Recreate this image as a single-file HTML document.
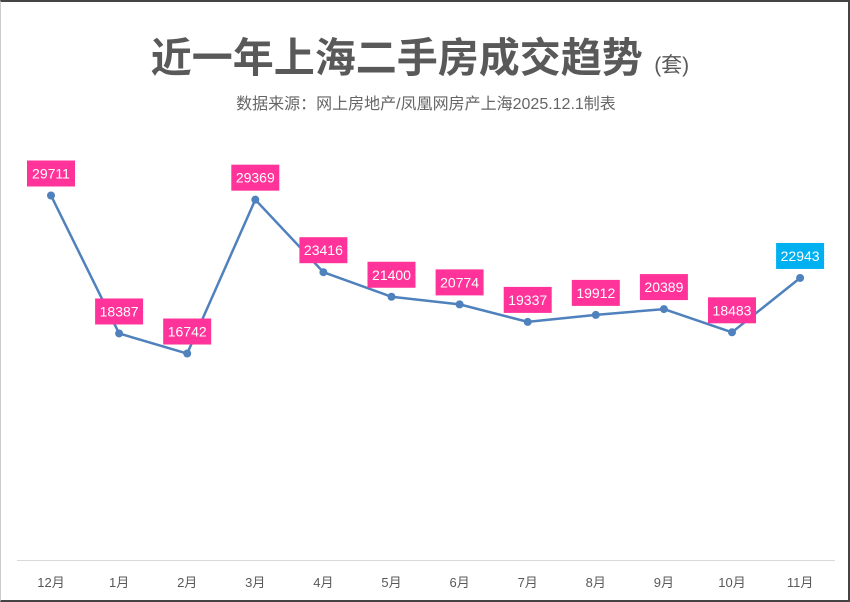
<!DOCTYPE html>
<html><head><meta charset="utf-8"><style>
html,body{margin:0;padding:0;background:#fff}
#wrap{position:relative;width:850px;height:602px;box-sizing:border-box;border:2px solid #444;border-left:1px solid #ccc;overflow:hidden;font-family:"Liberation Sans","Noto Sans CJK SC",sans-serif}
#title{position:absolute;top:22px;left:-6px;width:850px;text-align:center;font-size:41px;font-weight:bold;color:#595959}
#title small{font-size:21px;font-weight:normal}
#sub{position:absolute;top:88px;left:0;width:850px;text-align:center;font-size:16px;color:#666}
svg{position:absolute;left:0;top:0}
</style></head><body>
<div id="wrap">
<div id="title">近一年上海二手房成交趋势 <small>(套)</small></div>
<div id="sub">数据来源：网上房地产/凤凰网房产上海2025.12.1制表</div>
<svg id="chart" width="850" height="602"></svg>
</div>
<script>
const categories=["12月","1月","2月","3月","4月","5月","6月","7月","8月","9月","10月","11月"];
const values=[29711,18387,16742,29369,23416,21400,20774,19337,19912,20389,18483,22943];
const NS="http://www.w3.org/2000/svg";
const svg=document.getElementById('chart');
const x0=50,step=68.1,yBase=555.5,k=0.012184;
const xs=i=>x0+i*step;
const ys=v=>yBase-v*k;
function mk(t,a){const e=document.createElementNS(NS,t);for(const n in a)e.setAttribute(n,a[n]);svg.appendChild(e);return e;}
const axis=mk('line',{x1:16,x2:834,y1:558.5,y2:558.5,stroke:'#d9d9d9','stroke-width':1});


categories.forEach((c,i)=>{const t=mk('text',{x:xs(i),y:585,'text-anchor':'middle','font-size':13,fill:'#595959'});t.textContent=c;

});
const line=mk('polyline',{points:values.map((v,i)=>xs(i)+','+ys(v)).join(' '),fill:'none',stroke:'#4f81bd','stroke-width':2.5,'stroke-linejoin':'round'});


values.forEach((v,i)=>{
const p=mk('circle',{cx:xs(i),cy:ys(v),r:4,fill:'#4f81bd'});


const last=i===values.length-1;
const r=mk('rect',{x:xs(i)-24,y:ys(v)-35,width:48,height:26,fill:last?'#00b0f0':'#ff3399'});


const t=mk('text',{x:xs(i),y:ys(v)-17,'text-anchor':'middle','font-size':14,fill:'#fff'});t.textContent=v;


});
</script>
</body></html>
